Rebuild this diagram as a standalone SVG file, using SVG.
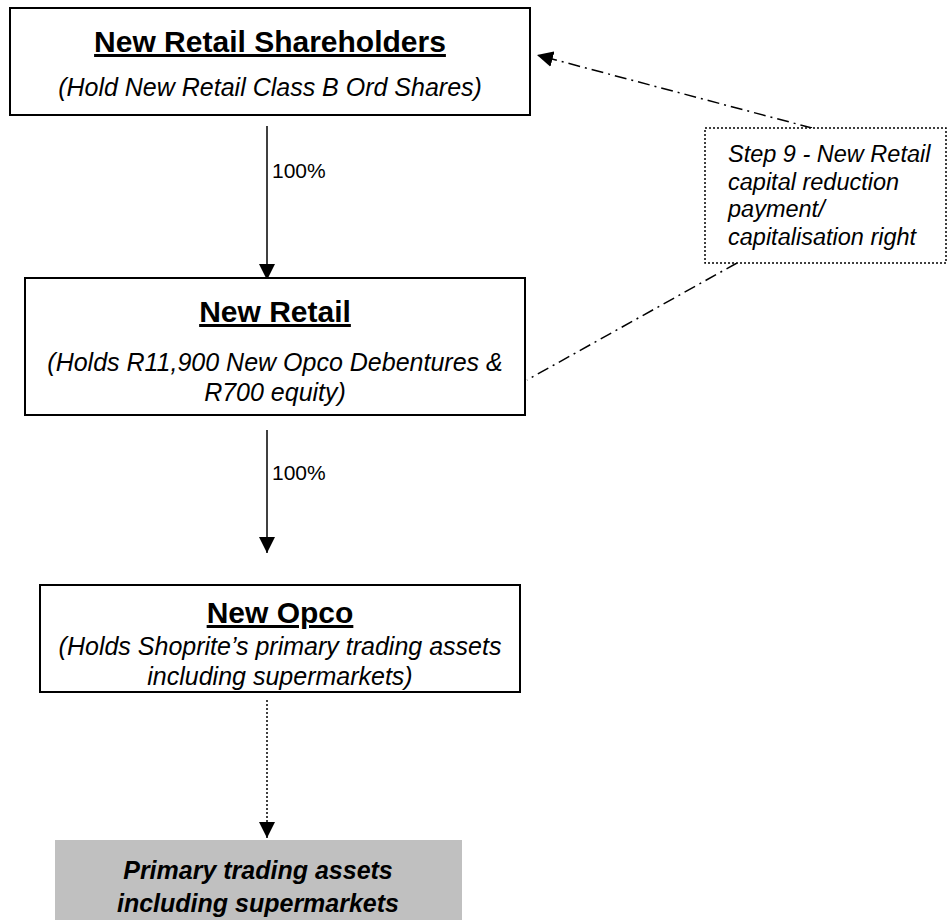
<svg xmlns="http://www.w3.org/2000/svg" width="948" height="920" viewBox="0 0 948 920">
<style>
.box{fill:#fff;stroke:#000;stroke-width:2}
.title{font-family:"Liberation Sans",Arial,sans-serif;font-weight:bold;font-size:30px;text-anchor:middle;text-decoration:underline}
.sub{font-family:"Liberation Sans",Arial,sans-serif;font-style:italic;font-size:25px;text-anchor:middle}
.lbl{font-family:"Liberation Sans",Arial,sans-serif;font-size:21px}
.note{font-family:"Liberation Sans",Arial,sans-serif;font-style:italic;font-size:23.5px}
.asset{font-family:"Liberation Sans",Arial,sans-serif;font-style:italic;font-weight:bold;font-size:25px;text-anchor:middle}
.conn{stroke:#000;stroke-width:1.5;fill:none}
</style>
<defs>
<marker id="ah" viewBox="0 0 10 10" refX="10" refY="5" markerWidth="16" markerHeight="16" markerUnits="userSpaceOnUse" orient="auto">
<path d="M0,0 L10,5 L0,10 z" fill="#000"/>
</marker>
</defs>
<rect width="948" height="920" fill="#fff"/>
<g id="connectors">
<line class="conn" x1="267" y1="126" x2="267" y2="280" marker-end="url(#ah)"/>
<text class="lbl" x="272" y="178">100%</text>
<line class="conn" x1="267" y1="430" x2="267" y2="553" marker-end="url(#ah)"/>
<text class="lbl" x="272" y="480">100%</text>
<line class="conn" x1="267" y1="700" x2="267" y2="838" stroke-dasharray="2 2" marker-end="url(#ah)"/>
<line class="conn" x1="812" y1="128" x2="537" y2="55" stroke-dasharray="12 5 2 5" marker-end="url(#ah)"/>
<line class="conn" x1="737" y1="263" x2="527" y2="380" stroke-dasharray="12 5 2 5"/>
</g>
<g id="shareholders">
<rect class="box" x="10" y="8" width="520" height="107"/>
<text class="title" x="270" y="52">New Retail Shareholders</text>
<text class="sub" x="270" y="96" font-size="26">(Hold New Retail Class B Ord Shares)</text>
</g>
<g id="newretail">
<rect class="box" x="25" y="278" width="500" height="137"/>
<text class="title" x="275" y="322">New Retail</text>
<text class="sub" x="275" y="371">(Holds R11,900 New Opco Debentures &amp;</text>
<text class="sub" x="275" y="401">R700 equity)</text>
</g>
<g id="newopco">
<rect class="box" x="40" y="585" width="480" height="107"/>
<text class="title" x="280" y="623">New Opco</text>
<text class="sub" x="280" y="655">(Holds Shoprite’s primary trading assets</text>
<text class="sub" x="280" y="685">including supermarkets)</text>
</g>
<g id="assets">
<rect x="55" y="840" width="407" height="80" fill="#c0c0c0"/>
<text class="asset" x="258" y="879">Primary trading assets</text>
<text class="asset" x="258" y="912">including supermarkets</text>
</g>
<g id="step9">
<rect x="705" y="128" width="241" height="135" fill="#fff" stroke="#000" stroke-width="1.5" stroke-dasharray="2 2"/>
<text class="note" x="728" y="162">Step 9 - New Retail</text>
<text class="note" x="728" y="190">capital reduction</text>
<text class="note" x="728" y="217">payment/</text>
<text class="note" x="728" y="245">capitalisation right</text>
</g>
</svg>
